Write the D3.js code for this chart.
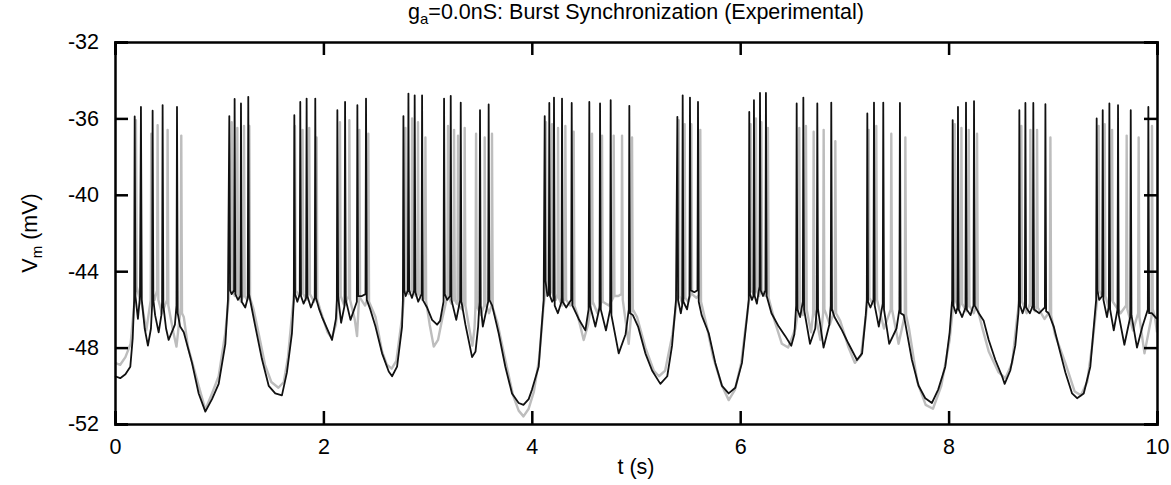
<!DOCTYPE html>
<html>
<head>
<meta charset="utf-8">
<script src="https://cdnjs.cloudflare.com/ajax/libs/d3/7.8.5/d3.min.js"></script>
<style>
  body { margin: 0; background: #fff; }
  svg text { font-family: "Liberation Sans", Arial, Helvetica, sans-serif; fill: #000; }
</style>
</head>
<body>
<div id="graphic"></div>
<script>
var chartTitle = "=0.0nS: Burst Synchronization (Experimental)";
var xTicks = [0, 2, 4, 6, 8, 10];
var yTicks = [-52, -48, -44, -40, -36, -32];

// black trace: [t (s), Vm (mV)]
var blackTrace = [
  [0.000,-49.5],[0.05,-49.6],[0.10,-49.4],[0.147,-49.0],[0.170,-47.5],[0.184,-45.5],
  [0.189,-35.9],[0.196,-45.3],[0.220,-46.5],[0.240,-45.3],
  [0.249,-35.4],[0.257,-45.5],[0.285,-47.0],[0.316,-47.9],[0.345,-47.0],[0.356,-45.8],
  [0.361,-35.6],[0.368,-45.5],[0.385,-46.3],[0.419,-47.2],[0.445,-46.3],[0.452,-45.6],
  [0.457,-35.3],[0.464,-45.8],[0.490,-47.0],[0.515,-47.6],[0.575,-46.8],[0.590,-45.8],
  [0.595,-35.4],[0.602,-46.2],[0.625,-46.9],[0.66,-47.2],[0.739,-48.8],[0.803,-50.4],[0.867,-51.35],[0.931,-50.7],[0.995,-49.9],[1.059,-47.8],[1.084,-45.5],
  [1.097,-35.88],[1.104,-45.0],[1.120,-45.2],[1.143,-45.0],
  [1.148,-34.98],[1.155,-45.2],[1.180,-45.5],[1.204,-45.3],
  [1.209,-35.22],[1.216,-45.6],[1.250,-45.9],[1.274,-45.4],
  [1.279,-34.87],[1.286,-45.2],[1.30,-45.6],[1.347,-46.9],[1.41,-48.6],[1.475,-50.0],[1.538,-50.4],[1.602,-50.5],[1.65,-49.3],[1.698,-47.25],[1.716,-45.5],
  [1.721,-35.83],[1.728,-45.2],[1.750,-45.6],[1.773,-45.2],
  [1.778,-35.14],[1.785,-45.3],[1.810,-45.7],[1.834,-45.4],
  [1.839,-34.96],[1.846,-45.3],[1.880,-45.9],[1.917,-45.4],
  [1.922,-34.96],[1.929,-45.4],[1.96,-46.0],[1.987,-46.4],[2.083,-47.6],[2.12,-46.5],[2.129,-45.5],
  [2.134,-35.57],[2.141,-45.3],[2.170,-46.7],[2.203,-45.8],
  [2.208,-35.14],[2.215,-45.5],[2.260,-46.55],[2.321,-45.6],
  [2.326,-35.31],[2.333,-45.3],[2.370,-45.3],[2.404,-45.2],
  [2.409,-34.96],[2.416,-45.5],[2.45,-46.0],[2.50,-46.9],[2.563,-48.3],[2.627,-49.25],[2.659,-49.5],[2.707,-49.0],[2.755,-46.9],[2.763,-45.5],
  [2.768,-35.88],[2.775,-45.0],[2.79,-45.3],[2.811,-45.0],
  [2.816,-34.70],[2.823,-45.0],[2.85,-45.4],[2.871,-45.0],
  [2.876,-34.79],[2.883,-45.1],[2.91,-45.6],[2.942,-45.2],
  [2.947,-34.79],[2.954,-45.5],[2.995,-45.9],[3.043,-46.55],[3.091,-46.8],[3.12,-46.6],[3.153,-45.6],
  [3.158,-34.96],[3.165,-45.2],[3.187,-45.5],[3.217,-45.3],
  [3.222,-34.82],[3.229,-45.5],[3.275,-46.55],[3.313,-45.5],
  [3.318,-35.17],[3.325,-45.6],[3.363,-46.8],[3.427,-48.5],[3.46,-48.2],[3.485,-46.9],[3.498,-45.6],
  [3.503,-35.57],[3.510,-45.8],[3.53,-46.9],[3.581,-45.6],
  [3.586,-35.27],[3.593,-45.5],[3.62,-45.8],[3.682,-47.25],[3.746,-49.0],[3.81,-50.4],[3.874,-50.9],[3.92,-51.0],[3.97,-50.7],[4.002,-50.2],[4.066,-49.0],[4.114,-45.5],
  [4.124,-35.88],[4.131,-44.5],[4.150,-45.3],[4.163,-45.2],
  [4.168,-35.19],[4.175,-45.3],[4.195,-45.6],[4.208,-45.5],
  [4.213,-34.91],[4.220,-45.8],[4.25,-46.2],[4.285,-45.6],
  [4.29,-34.96],[4.297,-45.6],[4.33,-45.9],[4.378,-45.5],
  [4.383,-35.19],[4.390,-45.8],[4.45,-46.5],[4.514,-47.1],[4.545,-46.0],
  [4.552,-35.14],[4.559,-45.8],[4.61,-46.9],[4.650,-45.9],
  [4.655,-35.22],[4.662,-46.0],[4.712,-47.1],[4.752,-46.0],
  [4.757,-35.05],[4.764,-46.3],[4.834,-48.3],[4.90,-47.3],[4.931,-46.0],
  [4.936,-35.34],[4.943,-46.2],[4.97,-46.3],[5.02,-46.9],[5.09,-48.3],[5.154,-49.2],[5.234,-49.9],[5.30,-49.5],[5.346,-47.9],[5.384,-45.5],
  [5.397,-35.92],[5.404,-45.5],[5.43,-46.2],[5.443,-45.8],
  [5.448,-34.79],[5.455,-45.6],[5.49,-46.0],[5.513,-45.3],
  [5.518,-34.91],[5.525,-45.0],[5.56,-45.1],[5.590,-45.0],
  [5.595,-35.14],[5.602,-45.6],[5.63,-46.3],[5.698,-47.25],[5.761,-48.8],[5.825,-50.0],[5.889,-50.4],[5.953,-50.1],[6.017,-48.8],[6.065,-46.4],[6.082,-45.5],
  [6.087,-35.66],[6.094,-45.2],[6.113,-45.5],[6.127,-45.3],
  [6.132,-35.05],[6.139,-45.3],[6.16,-45.7],[6.185,-44.8],
  [6.19,-34.67],[6.197,-45.0],[6.22,-45.3],[6.242,-45.0],
  [6.247,-34.67],[6.254,-45.3],[6.30,-46.2],[6.37,-46.9],[6.433,-47.4],[6.49,-47.9],[6.52,-47.3],[6.537,-45.8],
  [6.542,-35.22],[6.549,-46.0],[6.575,-46.4],[6.601,-45.6],
  [6.606,-34.91],[6.613,-46.0],[6.67,-47.8],[6.72,-47.0],[6.735,-46.0],
  [6.74,-35.22],[6.747,-46.0],[6.80,-48.0],[6.855,-46.8],[6.869,-45.8],
  [6.874,-35.17],[6.881,-46.0],[6.905,-46.4],[6.977,-47.1],[7.04,-47.8],[7.121,-48.65],[7.17,-48.3],[7.205,-46.3],[7.215,-45.5],
  [7.22,-35.74],[7.227,-45.6],[7.25,-45.9],[7.279,-45.5],
  [7.284,-35.17],[7.291,-45.8],[7.33,-46.9],[7.368,-45.7],
  [7.373,-35.17],[7.380,-46.0],[7.43,-47.8],[7.50,-47.0],[7.528,-46.0],
  [7.533,-35.19],[7.540,-46.2],[7.57,-46.3],[7.60,-47.2],[7.648,-48.65],[7.712,-50.0],[7.776,-50.65],[7.84,-50.9],[7.90,-50.2],[7.968,-49.0],[8.01,-47.2],[8.034,-45.5],
  [8.039,-36.09],[8.046,-45.8],[8.07,-46.2],[8.085,-45.9],
  [8.09,-35.4],[8.097,-46.0],[8.13,-46.4],[8.162,-45.9],
  [8.167,-35.17],[8.174,-46.0],[8.21,-46.3],[8.239,-45.8],
  [8.244,-35.1],[8.251,-45.8],[8.29,-46.2],[8.337,-46.6],[8.385,-47.6],[8.449,-48.65],[8.513,-49.5],[8.538,-49.9],[8.592,-49.2],[8.64,-47.9],[8.67,-46.2],[8.674,-45.5],
  [8.679,-35.57],[8.686,-45.8],[8.71,-46.2],[8.732,-45.8],
  [8.737,-35.19],[8.744,-45.9],[8.78,-46.2],[8.808,-45.8],
  [8.813,-35.19],[8.820,-46.0],[8.87,-46.2],[8.924,-45.9],
  [8.929,-35.26],[8.936,-46.1],[8.96,-46.2],[9.009,-46.9],[9.057,-47.95],[9.121,-49.3],[9.185,-50.4],[9.233,-50.65],[9.297,-50.4],[9.36,-49.0],[9.40,-46.5],[9.416,-45.5],
  [9.421,-36.0],[9.428,-45.0],[9.445,-45.5],[9.474,-45.3],
  [9.479,-35.57],[9.486,-45.5],[9.52,-46.4],[9.538,-45.8],
  [9.543,-35.22],[9.550,-46.0],[9.585,-47.1],[9.621,-46.0],
  [9.626,-35.31],[9.633,-46.3],[9.687,-47.85],[9.743,-46.4],
  [9.748,-35.57],[9.755,-46.3],[9.808,-48.0],[9.86,-46.9],[9.912,-46.0],
  [9.917,-35.40],[9.924,-46.2],[9.95,-46.2],[9.984,-46.4],[10.0,-46.5]
];

// grey trace (second cell)
var grayTrace = [
  [0.000,-48.8],[0.05,-48.9],[0.10,-48.5],[0.15,-47.8],[0.18,-46.0],[0.196,-45.0],
  [0.201,-36.1],[0.208,-44.8],[0.23,-45.3],[0.26,-45.8],[0.30,-47.1],[0.343,-45.5],
  [0.348,-36.8],[0.355,-45.0],[0.38,-45.5],[0.404,-45.0],
  [0.409,-36.35],[0.416,-45.5],[0.45,-46.2],[0.50,-45.5],
  [0.505,-36.6],[0.512,-45.8],[0.56,-47.2],[0.59,-47.95],[0.631,-45.9],
  [0.636,-36.9],[0.643,-46.2],[0.66,-46.4],[0.70,-47.95],[0.803,-50.0],[0.867,-51.25],[0.931,-50.4],[0.995,-49.5],[1.059,-47.2],[1.10,-45.0],
  [1.12,-36.2],[1.127,-45.0],[1.15,-45.3],[1.169,-45.0],
  [1.174,-36.5],[1.181,-45.2],[1.21,-45.6],[1.233,-45.2],
  [1.238,-36.4],[1.245,-45.3],[1.27,-45.5],[1.284,-45.3],
  [1.289,-36.4],[1.296,-45.4],[1.33,-46.0],[1.38,-47.3],[1.44,-48.9],[1.50,-49.8],[1.568,-50.1],[1.62,-49.8],[1.66,-48.5],[1.70,-46.2],[1.722,-45.0],
  [1.727,-36.4],[1.734,-45.0],[1.77,-45.3],[1.795,-45.0],
  [1.80,-36.6],[1.807,-45.2],[1.84,-45.5],[1.859,-45.0],
  [1.864,-36.5],[1.871,-45.2],[1.91,-45.6],[1.93,-45.4],
  [1.935,-37.0],[1.942,-45.5],[1.98,-46.2],[2.04,-47.2],[2.08,-47.5],[2.12,-46.8],[2.15,-45.2],
  [2.159,-36.2],[2.166,-45.3],[2.20,-45.8],[2.244,-45.3],
  [2.249,-36.1],[2.256,-45.5],[2.30,-46.5],[2.323,-47.4],[2.340,-45.6],
  [2.345,-36.6],[2.352,-45.4],[2.40,-45.8],[2.426,-45.4],
  [2.431,-36.8],[2.438,-45.6],[2.50,-46.4],[2.563,-48.2],[2.61,-48.9],[2.655,-49.1],[2.70,-48.7],[2.755,-46.4],[2.78,-45.0],
  [2.787,-36.5],[2.794,-45.0],[2.82,-45.2],[2.846,-45.0],
  [2.851,-36.0],[2.858,-45.0],[2.89,-45.3],[2.903,-45.0],
  [2.908,-36.2],[2.915,-45.2],[2.95,-45.5],[2.974,-45.4],
  [2.979,-37.0],[2.986,-45.6],[3.02,-46.8],[3.059,-47.95],[3.10,-47.6],[3.14,-46.5],[3.19,-45.3],
  [3.196,-36.4],[3.203,-45.4],[3.23,-45.7],[3.249,-45.4],
  [3.254,-36.6],[3.261,-45.5],[3.28,-45.7],[3.287,-45.5],
  [3.292,-36.9],[3.299,-45.8],[3.33,-46.0],[3.351,-45.6],
  [3.356,-36.5],[3.363,-45.8],[3.40,-47.0],[3.43,-47.9],[3.45,-47.0],[3.46,-45.8],
  [3.465,-36.8],[3.472,-45.8],[3.51,-46.3],[3.543,-45.8],
  [3.548,-37.0],[3.555,-45.7],[3.59,-46.2],[3.613,-45.8],
  [3.618,-36.8],[3.625,-45.9],[3.67,-46.7],[3.74,-48.5],[3.82,-50.5],[3.874,-51.3],[3.92,-51.6],[3.97,-51.2],[4.02,-50.3],[4.07,-48.6],[4.11,-46.0],[4.13,-45.0],
  [4.136,-36.2],[4.143,-44.8],[4.17,-45.2],[4.189,-45.0],
  [4.194,-36.3],[4.201,-45.2],[4.23,-45.5],[4.247,-45.2],
  [4.252,-36.5],[4.259,-45.4],[4.29,-45.8],[4.317,-45.4],
  [4.322,-36.4],[4.329,-45.5],[4.37,-45.8],[4.397,-45.6],
  [4.402,-36.7],[4.409,-45.8],[4.44,-46.3],[4.498,-47.6],[4.54,-46.8],[4.573,-45.6],
  [4.578,-36.8],[4.585,-45.6],[4.63,-46.2],[4.669,-45.6],
  [4.674,-36.9],[4.681,-45.6],[4.74,-45.8],[4.781,-45.4],
  [4.786,-36.9],[4.793,-45.3],[4.83,-45.3],[4.861,-45.2],
  [4.866,-36.9],[4.873,-45.5],[4.93,-47.8],[4.957,-46.0],
  [4.962,-37.0],[4.969,-46.0],[5.01,-46.4],[5.09,-48.0],[5.17,-49.2],[5.22,-49.5],[5.28,-49.2],[5.35,-47.3],[5.40,-45.2],
  [5.41,-36.1],[5.417,-45.3],[5.44,-45.6],[5.462,-45.3],
  [5.467,-36.3],[5.474,-45.4],[5.50,-45.6],[5.526,-45.2],
  [5.531,-36.3],[5.538,-45.2],[5.58,-45.4],[5.612,-45.2],
  [5.617,-36.6],[5.624,-45.6],[5.68,-46.9],[5.74,-48.5],[5.825,-50.0],[5.89,-50.75],[5.95,-50.2],[6.01,-48.8],[6.05,-47.0],[6.09,-45.3],
  [6.10,-36.3],[6.107,-45.0],[6.13,-45.2],[6.146,-45.0],
  [6.151,-36.0],[6.158,-45.0],[6.18,-45.3],[6.198,-45.0],
  [6.203,-36.2],[6.210,-45.0],[6.24,-45.3],[6.261,-45.0],
  [6.266,-36.5],[6.273,-45.4],[6.33,-46.6],[6.40,-47.8],[6.46,-48.0],[6.53,-47.0],[6.562,-45.8],
  [6.567,-36.5],[6.574,-45.8],[6.60,-46.3],[6.626,-45.8],
  [6.631,-36.4],[6.638,-46.0],[6.68,-47.2],[6.70,-46.2],
  [6.705,-36.7],[6.712,-46.0],[6.77,-47.6],[6.796,-46.2],
  [6.801,-36.6],[6.808,-46.0],[6.86,-46.8],[6.908,-46.0],
  [6.913,-37.2],[6.920,-46.2],[6.96,-46.6],[7.04,-48.0],[7.10,-48.8],[7.16,-48.4],[7.21,-46.2],[7.228,-45.4],
  [7.233,-36.6],[7.240,-45.4],[7.27,-45.7],[7.301,-45.4],
  [7.306,-36.4],[7.313,-45.5],[7.38,-47.0],[7.445,-46.0],
  [7.45,-36.8],[7.457,-46.0],[7.52,-47.8],[7.58,-46.3],
  [7.585,-37.0],[7.592,-46.3],[7.62,-47.0],[7.70,-49.8],[7.78,-51.0],[7.85,-51.2],[7.93,-50.0],[8.01,-47.6],[8.05,-45.5],
  [8.059,-36.3],[8.066,-45.5],[8.10,-46.0],[8.118,-45.6],
  [8.123,-36.5],[8.130,-45.7],[8.17,-46.1],[8.188,-45.7],
  [8.193,-36.6],[8.200,-45.8],[8.24,-46.2],[8.268,-45.8],
  [8.273,-36.8],[8.280,-46.0],[8.32,-46.9],[8.385,-48.2],[8.48,-49.3],[8.545,-49.6],[8.61,-48.8],[8.66,-46.3],[8.69,-45.3],
  [8.698,-36.4],[8.705,-45.6],[8.75,-46.2],[8.780,-45.7],
  [8.785,-36.6],[8.792,-45.8],[8.83,-46.1],[8.844,-45.8],
  [8.849,-36.6],[8.856,-45.9],[8.92,-46.5],[8.972,-46.1],
  [8.977,-37.0],[8.984,-46.3],[9.02,-47.3],[9.12,-48.8],[9.21,-50.3],[9.27,-50.5],[9.33,-49.8],[9.38,-47.8],[9.43,-45.3],
  [9.44,-36.4],[9.447,-45.0],[9.47,-45.3],[9.493,-45.0],
  [9.498,-36.3],[9.505,-45.3],[9.53,-45.8],[9.564,-45.4],
  [9.569,-36.6],[9.576,-45.6],[9.65,-46.2],[9.704,-45.8],
  [9.709,-36.9],[9.716,-46.0],[9.77,-47.1],[9.819,-46.2],
  [9.824,-37.0],[9.831,-46.4],[9.88,-48.3],[9.947,-46.4],
  [9.952,-36.4],[9.959,-46.0],[9.98,-46.4],[10.0,-47.2]
];

var graphic = new Object;

graphic.create = function() {
  var width = 1171, height = 485;
  var margin = {top: 42, right: 14, bottom: 61, left: 115};
  var w = width - margin.left - margin.right;
  var h = height - margin.top - margin.bottom;

  var x = d3.scaleLinear().domain([0, 10]).range([0, w]);
  var y = d3.scaleLinear().domain([-52, -32]).range([h, 0]);

  graphic.svg = d3.select("#graphic").append("svg").attr("width", width).attr("height", height);
  var g = graphic.svg.append("g").attr("transform", "translate(" + margin.left + "," + margin.top + ")");

  var line = d3.line().x(function(d) { return x(d[0]); }).y(function(d) { return y(d[1]); });

  g.append("path").datum(grayTrace).attr("d", line)
    .attr("fill", "none").attr("stroke", "#bdbdbd").attr("stroke-width", 2.4).attr("stroke-linejoin", "round");
  g.append("path").datum(blackTrace).attr("d", line)
    .attr("fill", "none").attr("stroke", "#111").attr("stroke-width", 1.8).attr("stroke-linejoin", "round");

  // axes, ticks pointing inward
  var tl = 13;
  var fmt = function(d) { return d < 0 ? "-" + Math.abs(d) : d; };
  var bottom = g.append("g").attr("transform", "translate(0," + h + ")")
    .call(d3.axisBottom(x).tickValues(xTicks).tickSize(-tl).tickPadding(15).tickFormat(fmt));
  var top = g.append("g").call(d3.axisTop(x).tickValues(xTicks).tickSize(-tl).tickFormat(""));
  var left = g.append("g")
    .call(d3.axisLeft(y).tickValues(yTicks).tickSize(-tl).tickPadding(16).tickFormat(fmt));
  var right = g.append("g").attr("transform", "translate(" + w + ",0)")
    .call(d3.axisRight(y).tickValues(yTicks).tickSize(-tl).tickFormat(""));

  [bottom, top, left, right].forEach(function(a) {
    a.select(".domain").attr("stroke", "#000").attr("stroke-width", 2.5);
    a.selectAll(".tick line").attr("stroke", "#000").attr("stroke-width", 2.5);
    a.selectAll(".tick text").attr("font-size", 21.5).attr("font-family", "Liberation Sans, Arial, sans-serif").attr("fill", "#000");
  });

  // title
  var title = graphic.svg.append("text").attr("x", margin.left + w / 2).attr("y", 19)
    .attr("text-anchor", "middle").attr("font-size", 21.5);
  title.append("tspan").text("g");
  title.append("tspan").attr("font-size", 15).attr("dy", 5).text("a");
  title.append("tspan").attr("dy", -5).text(chartTitle);

  graphic.svg.append("text").attr("x", margin.left + w / 2).attr("y", 474)
    .attr("text-anchor", "middle").attr("font-size", 21.5).text("t (s)");

  var yl = graphic.svg.append("text")
    .attr("transform", "translate(37," + (margin.top + h / 2) + ") rotate(-90)")
    .attr("text-anchor", "middle").attr("font-size", 21.5);
  yl.append("tspan").text("V");
  yl.append("tspan").attr("font-size", 15).attr("dy", 5).text("m");
  yl.append("tspan").attr("dy", -5).text(" (mV)");
};

graphic.create();
</script>
</body>
</html>
